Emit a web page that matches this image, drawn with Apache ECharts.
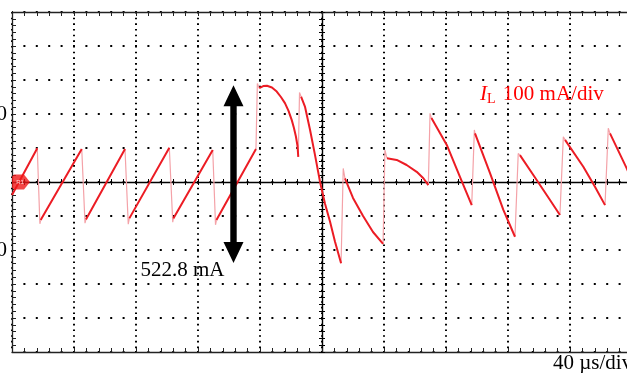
<!DOCTYPE html>
<html>
<head>
<meta charset="utf-8">
<script src="https://cdn.jsdelivr.net/npm/echarts@6/dist/echarts.min.js"></script>
<style>
  html, body { margin: 0; padding: 0; background: #fff; }
  #chart { width: 627px; height: 373px; }
</style>
</head>
<body>
<div id="chart"></div>
<script>
// Inductor current I_L, 40 µs/div horizontally, 100 mA/div vertically.
// Each ramp is one slow segment of the trace; times in µs, currents in mA.
const rampTime = [
  [0, 16.3],
  [18.5, 45.0],
  [47.7, 72.9],
  [75.7, 101.5],
  [104.1, 129.5],
  [131.9, 157.4],
  [159.5, 162.1, 164.5, 167.7, 170.8, 173.5, 176.1, 178.4, 180.5, 181.9, 183.2, 184.2, 184.7],
  [186.5, 189.0, 192.3, 195.5, 198.7, 201.9, 205.2, 208.4, 212.3],
  [214.8, 220.0, 226.5, 232.9, 239.4],
  [241.9, 248.2, 254.6, 261.1, 265.4, 268.6],
  [270.6, 280.5, 289.0, 296.6],
  [298.7, 308.4, 317.0, 324.5],
  [327.7, 338.5, 347.1, 353.5],
  [356.8, 368.6, 376.1, 382.6],
  [385.8, 396.6, 400]
];
const rampCurrent = [
  [-38, 99],
  [-112, 97],
  [-110, 97],
  [-107, 101],
  [-107, 94],
  [-112, 97],
  [276, 282, 283, 278, 266, 250, 232, 209, 182, 159, 133, 106, 74],
  [251, 222, 153, 79, 1, -63, -117, -176, -239],
  [11, -47, -100, -147, -182],
  [70, 65, 50, 30, 11, -9],
  [188, 109, 15, -68],
  [143, 26, -82, -161],
  [79, 6, -53, -97],
  [124, 45, -14, -68],
  [143, 40, 6]
];
// Fast switching edges between consecutive ramps (extreme of each edge)
const edgeTime    = [18.0, 47.1, 75.0, 103.7, 131.3, 158.3, 185.5, 213.7, 240.6, 269.7, 298.3, 326.6, 355.7, 384.7];
const edgeCurrent = [-123, -121, -124, -118, -126, 290, 263, 40, 94, 202, 153, 84, 133, 158];

// Peak-to-peak measurement
const rippleTime = 142.9;
const rippleTop = 284.6;
const ripplePP = 522.8;

// Channel reference marker
const refTime = 5.8;
const refLevel = 0;

// Axis ranges / tick labels
const timeMax = 400, timeDiv = 40;
const currentMin = -500, currentMax = 500, currentDiv = 100;
const currentLabels = [200, -200];

const rampData = [];
rampTime.forEach((ts, k) => {
  ts.forEach((t, j) => rampData.push([t, rampCurrent[k][j]]));
  rampData.push(null);
});
const edgeData = [];
edgeTime.forEach((t, k) => {
  const a = rampTime[k], b = rampTime[k + 1];
  edgeData.push([a[a.length - 1], rampCurrent[k][a.length - 1]]);
  edgeData.push([t, edgeCurrent[k]]);
  edgeData.push([b[0], rampCurrent[k + 1][0]]);
  edgeData.push(null);
});

const serif = '"Liberation Serif", "Times New Roman", serif';
const frameColor = '#222';

function timeAxis(extra) {
  return Object.assign({
    type: 'value', min: 0, max: timeMax, interval: timeDiv,
    axisLine: { show: true, onZero: false, lineStyle: { color: frameColor, width: 1.3 } },
    axisTick: { show: true, inside: true, length: 4, lineStyle: { color: frameColor, width: 1 } },
    minorTick: { show: true, splitNumber: 5, length: 4, lineStyle: { color: frameColor, width: 1 } },
    axisLabel: { show: false },
    splitLine: { show: false }
  }, extra);
}
function currentAxis(extra) {
  return Object.assign({
    type: 'value', min: currentMin, max: currentMax, interval: currentDiv,
    axisLine: { show: true, onZero: false, lineStyle: { color: frameColor, width: 1.3 } },
    axisTick: { show: true, inside: true, length: 4, lineStyle: { color: frameColor, width: 1 } },
    minorTick: { show: true, splitNumber: 5, length: 4, lineStyle: { color: frameColor, width: 1 } },
    axisLabel: { show: false },
    splitLine: { show: false }
  }, extra);
}

const chart = echarts.init(document.getElementById('chart'), null, { renderer: 'canvas' });
chart.setOption({
  animation: false,
  backgroundColor: '#fff',
  grid: { left: 12, top: 12, width: 620, height: 340, containLabel: false, outerBoundsMode: 'none' },
  title: [
    {
      text: '{i|I}{s|L} 100 mA/div',
      left: 480, top: 83, padding: 0,
      textStyle: {
        fontFamily: serif, fontSize: 21, fontWeight: 'normal', color: '#ff0000',
        rich: {
          i: { fontFamily: serif, fontSize: 21, fontStyle: 'italic', color: '#ff0000' },
          s: { fontFamily: serif, fontSize: 14, color: '#ff0000', padding: [9, 2, 0, 0] }
        }
      }
    },
    {
      text: '40 µs/div',
      left: 553, top: 353, padding: 0,
      textStyle: { fontFamily: serif, fontSize: 21, fontWeight: 'normal', color: '#000' }
    }
  ],
  xAxis: [
    // frame bottom, carries the vertical dotted grid
    timeAxis({ position: 'bottom', splitLine: { show: true, lineStyle: { color: '#000', width: 2, type: [1.6, 4.07], dashOffset: 0 } } }),
    // frame top
    timeAxis({ position: 'top' }),
    // centre horizontal axis, ticks on both sides
    timeAxis({ position: 'bottom', offset: -170, axisLine: { show: true, onZero: false, lineStyle: { color: '#000', width: 1.4 } }, axisTick: { show: true, inside: true, length: 3, lineStyle: { color: '#000' } }, minorTick: { show: true, splitNumber: 5, length: 3, lineStyle: { color: '#000' } } }),
    timeAxis({ position: 'bottom', offset: -170, axisLine: { show: false, onZero: false }, axisTick: { show: true, inside: false, length: 3, lineStyle: { color: '#000' } }, minorTick: { show: true, splitNumber: 5, length: 3, lineStyle: { color: '#000' } } })
  ],
  yAxis: [
    // frame left, carries the horizontal dotted grid and level labels
    currentAxis({
      position: 'left',
      splitLine: { show: true, lineStyle: { color: '#000', width: 2, type: [2, 10.4], dashOffset: 1 } },
      axisLabel: {
        show: true, margin: 5, fontFamily: serif, fontSize: 21, color: '#000',
        formatter: v => (currentLabels.indexOf(v) >= 0 ? String(v) : '')
      }
    }),
    // frame right
    currentAxis({ position: 'right' }),
    // centre vertical axis, ticks on both sides
    currentAxis({ position: 'left', offset: -310, axisLine: { show: true, onZero: false, lineStyle: { color: '#000', width: 1.4 } }, axisTick: { show: true, inside: true, length: 3, lineStyle: { color: '#000' } }, minorTick: { show: true, splitNumber: 5, length: 3, lineStyle: { color: '#000' } } }),
    currentAxis({ position: 'left', offset: -310, axisLine: { show: false, onZero: false }, axisTick: { show: true, inside: false, length: 3, lineStyle: { color: '#000' } }, minorTick: { show: true, splitNumber: 5, length: 3, lineStyle: { color: '#000' } } })
  ],
  series: [
    {
      name: 'edges', type: 'line', xAxisIndex: 0, yAxisIndex: 0,
      data: edgeData, showSymbol: false, connectNulls: false, z: 4,
      lineStyle: { color: '#f4a2a8', width: 1.2 }
    },
    {
      name: 'I_L', type: 'line', xAxisIndex: 0, yAxisIndex: 0,
      data: rampData, showSymbol: false, connectNulls: false, z: 5,
      lineStyle: { color: '#ec1c24', width: 2 }
    },
    {
      name: 'ref', type: 'scatter', xAxisIndex: 0, yAxisIndex: 0, z: 6,
      data: [[refTime, refLevel]],
      symbol: 'path://M0,2 L2,0 L12,0 L18,7.5 L12,15 L2,15 L0,13 Z',
      symbolSize: [18, 15],
      itemStyle: { color: '#f01818' },
      label: { show: true, position: 'inside', formatter: 'R1', color: '#fff', fontSize: 6, offset: [-1, 0] }
    },
    {
      name: 'ripple', type: 'custom', xAxisIndex: 0, yAxisIndex: 0, z: 10,
      data: [[rippleTime, rippleTop, rippleTop - ripplePP]],
      renderItem: function (params, api) {
        const t = api.value(0);
        const top = api.coord([t, api.value(1)]);
        const bot = api.coord([t, api.value(2)]);
        const hw = 10, hh = 21, sw = 3.2;
        return {
          type: 'group',
          children: [
            {
              type: 'polygon',
              shape: {
                points: [
                  [top[0], top[1]], [top[0] + hw, top[1] + hh], [top[0] + sw, top[1] + hh],
                  [bot[0] + sw, bot[1] - hh], [bot[0] + hw, bot[1] - hh], [bot[0], bot[1]],
                  [bot[0] - hw, bot[1] - hh], [bot[0] - sw, bot[1] - hh],
                  [top[0] - sw, top[1] + hh], [top[0] - hw, top[1] + hh]
                ]
              },
              style: { fill: '#000' }
            },
            {
              type: 'text',
              x: bot[0] - 9, y: bot[1] + 7,
              style: {
                text: ripplePP.toFixed(1) + ' mA',
                align: 'right', verticalAlign: 'middle',
                fontFamily: serif, fontSize: 21, fill: '#000'
              }
            }
          ]
        };
      }
    }
  ]
});
</script>
</body>
</html>
